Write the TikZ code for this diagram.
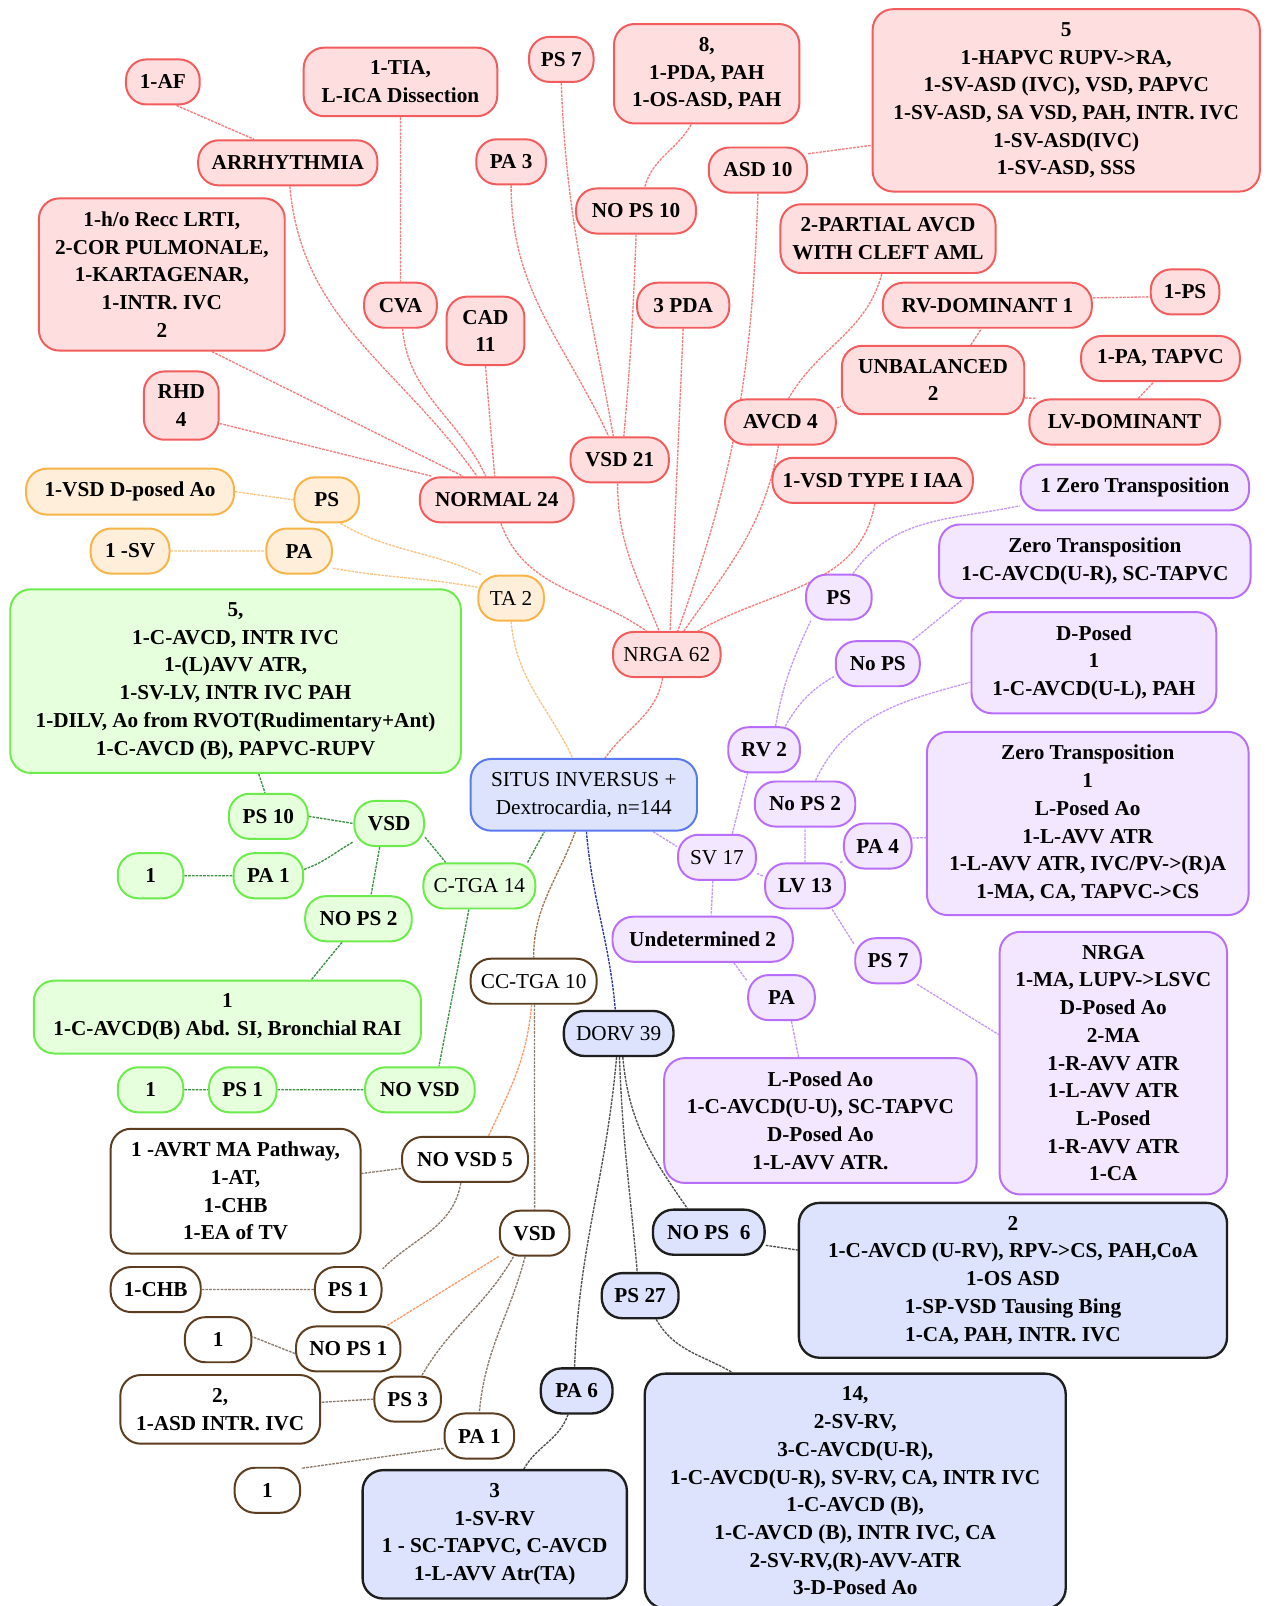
\documentclass[tikz,border=0pt]{standalone}
\usepackage{fontspec}
\setmainfont{Liberation Serif}
\usetikzlibrary{backgrounds}

\definecolor{redbd}{HTML}{F25C5C}
\definecolor{redfl}{HTML}{FFDEE0}
\definecolor{redln}{HTML}{F47E7E}
\definecolor{orgbd}{HTML}{F8B446}
\definecolor{orgfl}{HTML}{FFEEDA}
\definecolor{orgln}{HTML}{F9C585}
\definecolor{grnbd}{HTML}{6CEB4C}
\definecolor{grnfl}{HTML}{E6FFDD}
\definecolor{grnln}{HTML}{3F8F46}
\definecolor{blubd}{HTML}{5A78F0}
\definecolor{blufl}{HTML}{DDE3FD}
\definecolor{dorbd}{HTML}{1E1E1E}
\definecolor{dorln}{HTML}{505050}
\definecolor{purbd}{HTML}{B96EFA}
\definecolor{purfl}{HTML}{F3E6FF}
\definecolor{purln}{HTML}{C79AF5}
\definecolor{brnbd}{HTML}{5C3D20}
\definecolor{brnln}{HTML}{8C7B6A}
\definecolor{salln}{HTML}{FF9A6A}
\definecolor{navln}{HTML}{2A36A0}
\definecolor{tanln}{HTML}{A07850}

\tikzset{
  box/.style={draw, rounded corners=0.4cm, line width=1.1pt, align=center,
    inner xsep=0.2cm, inner ysep=0.26cm, minimum height=0.88cm,
    font=\fontsize{11.8}{15.4}\selectfont\bfseries},
  lite/.style={font=\fontsize{11.8}{15.4}\selectfont},
  wd/.style={minimum width=#1*0.02cm},
  rednode/.style={box, draw=redbd, fill=redfl},
  orgnode/.style={box, draw=orgbd, fill=orgfl},
  grnnode/.style={box, draw=grnbd, fill=grnfl},
  rootnode/.style={box, draw=blubd, fill=blufl, lite},
  dornode/.style={box, draw=dorbd, fill=blufl, line width=1.3pt},
  purnode/.style={box, draw=purbd, fill=purfl},
  brnnode/.style={box, draw=brnbd, fill=white},
  link/.style={line width=0.75pt, dash pattern=on 1.5pt off 0.6pt},
  redl/.style={link, draw=redln},
  orgl/.style={link, draw=orgln},
  grnl/.style={link, draw=grnln},
  dorl/.style={link, draw=dorln},
  purl/.style={link, draw=purln},
  brnl/.style={link, draw=brnln},
  sall/.style={link, draw=salln},
  navl/.style={link, draw=navln},
  tanl/.style={link, draw=tanln}
}

\begin{document}
\begin{tikzpicture}[x=0.02cm,y=0.02cm]
\useasboundingbox (0,0) rectangle (1238,-1568);

\node[rednode,wd=72] (af) at (159,-80) {1-AF};
\node[rednode,wd=189] (tia) at (391,-80) {1-TIA,\\L-ICA Dissection};
\node[rednode,wd=63] (ps7r) at (548,-58) {PS 7};
\node[rednode,wd=181] (b8) at (690,-72) {8,\\1-PDA, PAH\\1-OS-ASD, PAH};
\node[rednode,wd=378] (b5) at (1041,-98) {5\\1-HAPVC RUPV->RA,\\1-SV-ASD (IVC), VSD, PAPVC\\1-SV-ASD, SA VSD, PAH, INTR. IVC\\1-SV-ASD(IVC)\\1-SV-ASD, SSS};
\node[rednode,wd=175] (arr) at (281,-159) {ARRHYTHMIA};
\node[rednode,wd=68] (pa3) at (499,-158) {PA 3};
\node[rednode,wd=96] (asd) at (740,-166) {ASD 10};
\node[rednode,wd=117] (nops10) at (621,-206) {NO PS 10};
\node[rednode,wd=240] (lrti) at (158,-268) {1-h/o Recc LRTI,\\2-COR PULMONALE,\\1-KARTAGENAR,\\1-INTR. IVC\\2};
\node[rednode,wd=210] (pavcd) at (867,-233) {2-PARTIAL AVCD\\WITH CLEFT AML};
\node[rednode,wd=71] (cva) at (391,-298) {CVA};
\node[rednode,wd=76] (cad) at (474,-323) {CAD\\11};
\node[rednode,wd=90] (pda) at (667,-298) {3 PDA};
\node[rednode,wd=204] (rvd) at (964,-298) {RV-DOMINANT 1};
\node[rednode,wd=67] (ps1r) at (1157,-285) {1-PS};
\node[rednode,wd=178] (unb) at (911,-371) {UNBALANCED\\2};
\node[rednode,wd=155] (patap) at (1133,-350) {1-PA, TAPVC};
\node[rednode,wd=73] (rhd) at (177,-396) {RHD\\4};
\node[rednode,wd=108] (avcd) at (762,-412) {AVCD 4};
\node[rednode,wd=186] (lvd) at (1098,-412) {LV-DOMINANT};
\node[rednode,wd=96] (vsd21) at (605,-449) {VSD 21};
\node[rednode,wd=175] (vsdt) at (852,-469) {1-VSD TYPE I IAA};
\node[rednode,wd=150] (nor) at (485,-488) {NORMAL 24};
\node[rednode,lite,wd=105] (nrga) at (651,-639) {NRGA 62};

\node[orgnode,wd=203] (vsdao) at (127,-480) {1-VSD D-posed Ao};
\node[orgnode,wd=63] (pso) at (319,-488) {PS};
\node[orgnode,wd=77] (sv1) at (127,-538) {1 -SV};
\node[orgnode,wd=64] (pao) at (292,-538) {PA};
\node[orgnode,lite,wd=64] (ta) at (499,-584) {TA 2};

\node[grnnode,wd=440] (g5) at (230,-665) {5,\\1-C-AVCD, INTR IVC\\1-(L)AVV ATR,\\1-SV-LV, INTR IVC PAH\\1-DILV, Ao from RVOT(Rudimentary+Ant)\\1-C-AVCD (B), PAPVC-RUPV};
\node[grnnode,wd=77] (ps10) at (262,-797) {PS 10};
\node[grnnode,wd=68] (vsdg) at (380,-804) {VSD};
\node[grnnode,wd=64] (g1a) at (147,-855) {1};
\node[grnnode,wd=68] (pa1g) at (262,-855) {PA 1};
\node[grnnode,lite,wd=109] (ctga) at (468,-865) {C-TGA 14};
\node[grnnode,wd=104] (nops2g) at (350,-897) {NO PS 2};
\node[grnnode,wd=378] (g1b) at (222,-993) {1\\1-C-AVCD(B) Abd. SI, Bronchial RAI};
\node[grnnode,wd=64] (g1c) at (147,-1064) {1};
\node[grnnode,wd=66] (ps1g) at (237,-1064) {PS 1};
\node[grnnode,wd=107] (novsdg) at (410,-1064) {NO VSD};

\node[rootnode,wd=221] (situs) at (570,-776) {SITUS INVERSUS +\\Dextrocardia, n=144};

\node[brnnode,lite,wd=119] (cctga) at (521,-958) {CC-TGA 10};
\node[brnnode,wd=244] (avrt) at (230,-1163) {1 -AVRT MA Pathway,\\1-AT,\\1-CHB\\1-EA of TV};
\node[brnnode,wd=123] (novsd5) at (454,-1132) {NO VSD 5};
\node[brnnode,wd=68] (vsdb) at (522,-1204) {VSD};
\node[brnnode,wd=88] (chb) at (152,-1259) {1-CHB};
\node[brnnode,wd=65] (ps1b) at (340,-1259) {PS 1};
\node[brnnode,wd=65] (b1a) at (213,-1308) {1};
\node[brnnode,wd=102] (nops1b) at (340,-1317) {NO PS 1};
\node[brnnode,wd=195] (b2) at (215,-1376) {2,\\1-ASD INTR. IVC};
\node[brnnode,wd=65] (ps3) at (398,-1366) {PS 3};
\node[brnnode,wd=68] (pa1b) at (468,-1402) {PA 1};
\node[brnnode,wd=64] (b1b) at (261,-1455) {1};

\node[dornode,lite,wd=107] (dorv) at (604,-1009) {DORV 39};
\node[dornode,wd=109] (nops6) at (692,-1203) {NO PS\ \ 6};
\node[dornode,wd=418] (b2d) at (989,-1250) {2\\1-C-AVCD (U-RV), RPV->CS, PAH,CoA\\1-OS ASD\\1-SP-VSD Tausing Bing\\1-CA, PAH, INTR. IVC};
\node[dornode,wd=75] (ps27) at (625,-1265) {PS 27};
\node[dornode,wd=70] (pa6) at (563,-1358) {PA 6};
\node[dornode,wd=411,anchor=north] (b14) at (835,-1340) {14,\\2-SV-RV,\\3-C-AVCD(U-R),\\1-C-AVCD(U-R), SV-RV, CA, INTR IVC\\1-C-AVCD (B),\\1-C-AVCD (B), INTR IVC, CA\\2-SV-RV,(R)-AVV-ATR\\3-D-Posed Ao};
\node[dornode,wd=258] (b3d) at (483,-1498) {3\\1-SV-RV\\1 - SC-TAPVC, C-AVCD\\1-L-AVV Atr(TA)};

\node[purnode,wd=223] (zt1) at (1108,-476) {1 Zero Transposition};
\node[purnode,wd=304] (zt2) at (1069,-548) {Zero Transposition\\1-C-AVCD(U-R), SC-TAPVC};
\node[purnode,wd=64] (psp) at (819,-583) {PS};
\node[purnode,wd=82] (nopsp) at (857,-648) {No PS};
\node[purnode,wd=239] (dpos) at (1068,-647) {D-Posed\\1\\1-C-AVCD(U-L), PAH};
\node[purnode,wd=70] (rv2) at (746,-732) {RV 2};
\node[purnode,wd=314] (zt3) at (1062,-804) {Zero Transposition\\1\\L-Posed Ao\\1-L-AVV ATR\\1-L-AVV ATR, IVC/PV->(R)A\\1-MA, CA, TAPVC->CS};
\node[purnode,wd=98] (nops2p) at (786,-785) {No PS 2};
\node[purnode,wd=66] (pa4) at (857,-826) {PA 4};
\node[purnode,lite,wd=76] (sv17) at (700,-837) {SV 17};
\node[purnode,wd=78] (lv13) at (786,-865) {LV 13};
\node[purnode,wd=176] (und) at (686,-917) {Undetermined 2};
\node[purnode,wd=64] (ps7p) at (867,-938) {PS 7};
\node[purnode,wd=222] (nrgab) at (1087,-1038) {NRGA\\1-MA, LUPV->LSVC\\D-Posed Ao\\2-MA\\1-R-AVV ATR\\1-L-AVV ATR\\L-Posed\\1-R-AVV ATR\\1-CA};
\node[purnode,wd=65] (pap) at (763,-974) {PA};
\node[purnode,wd=305] (lpos) at (801,-1094) {L-Posed Ao\\1-C-AVCD(U-U), SC-TAPVC\\D-Posed Ao\\1-L-AVV ATR.};

\begin{scope}[on background layer]
\fill[white] (0,0) rectangle (1238,-1568);
\draw[redl]
  (af.-60) -- (arr.145)
  (tia.south) -- (cva.north)
  (arr.-85) to[out=-85,in=125] (nor.130)
  (cva.-85) to[out=-85,in=115] (nor.115)
  (lrti.-57) -- (nor.145)
  (rhd.-25) -- (nor.160)
  (cad.south) -- (nor.95)
  (ps7r.south) to[out=-88,in=100] (vsd21.105)
  (pa3.south) to[out=-90,in=115] (vsd21.115)
  (nops10.south) to[out=-92,in=85] (vsd21.80)
  (b8.-107) to[out=-120,in=75] (nops10.70)
  (asd.18) -- (b5.-167)
  (pavcd.-100) to[out=-105,in=60] (avcd.71)
  (avcd.14) -- (unb.-164)
  (unb.43) -- (rvd.-104)
  (rvd.4) -- (ps1r.-172)
  (unb.-11) -- (lvd.165)
  (lvd.60) -- (patap.-106)
  (nor.-80) to[out=-70,in=145] (nrga.131)
  (vsd21.-95) to[out=-90,in=112] (nrga.108)
  (pda.south) -- (nrga.82)
  (asd.south) to[out=-92,in=70] (nrga.65)
  (avcd.-95) to[out=-100,in=55] (nrga.54)
  (vsdt.-85) to[out=-100,in=30] (nrga.37)
  (nrga.-100) to[out=-100,in=55] (situs.60);
\draw[orgl]
  (vsdao.east) -- (pso.west)
  (sv1.east) -- (pao.west)
  (pso.-60) to[out=-30,in=155] (ta.142)
  (pao.-27) to[out=-10,in=170] (ta.162)
  (ta.south) to[out=-85,in=115] (situs.107);
\draw[grnl]
  (g5.-76) -- (ps10.98)
  (ps10.east) -- (vsdg.west)
  (g1a.east) -- (pa1g.west)
  (pa1g.10) to[out=20,in=-150] (vsdg.-153)
  (vsdg.-112) -- (nops2g.62)
  (vsdg.-21) -- (ctga.145)
  (nops2g.-125) -- (g1b.24)
  (ctga.-114) -- (novsdg.51)
  (g1c.east) -- (ps1g.west)
  (ps1g.east) -- (novsdg.west)
  (ctga.26) -- (situs.-137);
\draw[tanl] (situs.-103) to[out=-110,in=90] (cctga.north);
\draw[navl] (situs.-86) to[out=-85,in=95] (dorv.98);
\draw[brnl]
  (cctga.-88) -- (vsdb.north)
  (novsd5.188) -- (avrt.8)
  (novsd5.-100) to[out=-100,in=45] (ps1b.31)
  (ps1b.west) -- (chb.east)
  (nops1b.185) -- (b1a.5)
  (vsdb.-132) to[out=-120,in=60] (ps3.59)
  (ps3.west) -- (b2.4)
  (vsdb.-112) to[out=-105,in=85] (pa1b.north)
  (pa1b.199) -- (b1b.33);
\draw[sall]
  (cctga.-95) to[out=-95,in=65] (novsd5.45)
  (vsdb.-147) -- (nops1b.31);
\draw[dorl]
  (dorv.-95) to[out=-95,in=88] (pa6.95)
  (dorv.-88) to[out=-88,in=95] (ps27.97)
  (dorv.-80) to[out=-85,in=125] (nops6.132)
  (nops6.-13) -- (b2d.172)
  (ps27.-56) to[out=-60,in=150] (b14.136)
  (pa6.-110) to[out=-110,in=60] (b3d.66);
\draw[purl]
  (situs.-28) -- (sv17.165)
  (sv17.57) -- (rv2.-125)
  (sv17.-22) -- (lv13.167)
  (sv17.-100) -- (und.70)
  (rv2.64) to[out=80,in=-115] (psp.-140)
  (rv2.48) to[out=60,in=-150] (nopsp.-164)
  (psp.59) to[out=55,in=-168] (zt1.-171)
  (nopsp.34) -- (zt2.-164)
  (lv13.north) -- (nops2p.south)
  (nops2p.66) to[out=65,in=-165] (dpos.-171)
  (lv13.34) -- (pa4.-156)
  (pa4.13) -- (zt3.-175)
  (lv13.-41) -- (ps7p.154)
  (ps7p.-39) -- (nrgab.166)
  (und.-37) -- (pap.154)
  (pap.-67) -- (lpos.109);
\end{scope}
\end{tikzpicture}
\end{document}
